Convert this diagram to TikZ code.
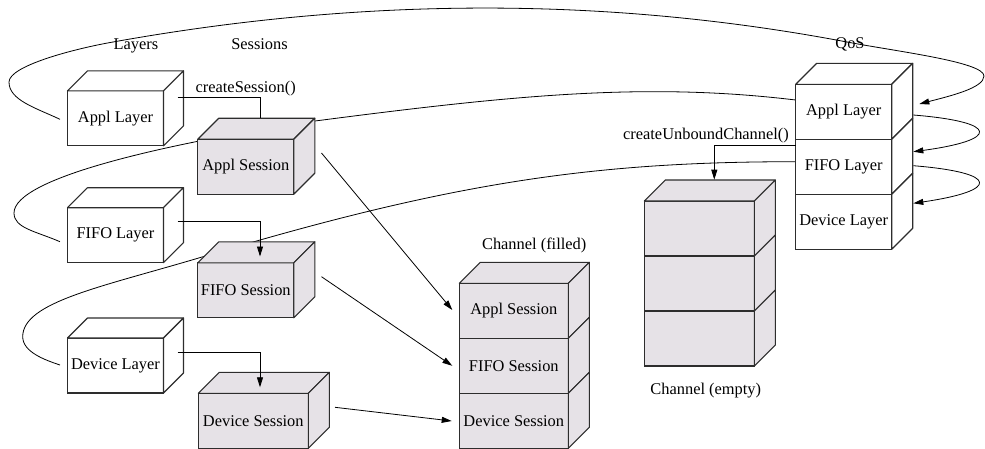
\documentclass[tikz,border=0pt]{standalone}
\usepackage{fontspec}
\setmainfont{Liberation Serif}
\usetikzlibrary{calc,arrows.meta}
\pgfdeclarelayer{background}
\pgfsetlayers{background,main}
\definecolor{sessfill}{RGB}{230,226,231}
\definecolor{edge}{RGB}{45,45,45}
\newcommand\mytopface[3]{\filldraw[boxface,fill=#3] (#1.north west) -- ++(#2,-#2) -- ($(#1.north east)+(#2,-#2)$) -- (#1.north east) -- cycle;}
\newcommand\mysideface[3]{\filldraw[boxface,fill=#3] (#1.north east) -- ++(#2,-#2) -- ($(#1.south east)+(#2,-#2)$) -- (#1.south east) -- cycle;}
\tikzset{
  lbl/.style={font=\fontsize{16.4}{19}\selectfont},
  cell/.style={draw=edge, line width=1.1pt, inner sep=0pt, outer sep=0pt, minimum height=55pt, lbl},
  layerbox/.style={cell, fill=white, minimum width=96pt},
  sessbox/.style={cell, fill=sessfill, minimum width=96pt},
  boxface/.style={draw=edge, line width=1.1pt, line join=round},
  conn/.style={draw=black, line width=0.8pt},
  arr/.style={conn, -{Triangle[length=10pt,width=6pt]}},
}
\begin{document}
\begin{tikzpicture}[x=1pt,y=-1pt]
\useasboundingbox (0,0) rectangle (985,448);
% left layers
\node[layerbox] (aL) at (115.5,118.3) {Appl Layer};
\node[layerbox] (fL) at (115.5,235.2) {FIFO Layer};
\node[layerbox] (dL) at (115.5,365.5) {Device Layer};
\mytopface{aL}{20}{white}\mysideface{aL}{20}{white}
\mytopface{fL}{20}{white}\mysideface{fL}{20}{white}
\mytopface{dL}{20}{white}\mysideface{dL}{20}{white}
% sessions
\node[sessbox] (aS) at (245.8,166.7) {Appl Session};
\node[sessbox] (fS) at (245.8,290.3) {FIFO Session};
\node[sessbox, minimum width=110pt] (dS) at (253.3,420.8) {Device Session};
\mytopface{aS}{21}{sessfill}\mysideface{aS}{21}{sessfill}
\mytopface{fS}{21}{sessfill}\mysideface{fS}{21}{sessfill}
\mytopface{dS}{21}{sessfill}\mysideface{dS}{21}{sessfill}
% channel (filled)
\node[sessbox, minimum width=109pt] (cA) at (513.8,310.8) {Appl Session};
\node[sessbox, minimum width=109pt] (cF) at (513.8,365.8) {FIFO Session};
\node[sessbox, minimum width=109pt] (cD) at (513.8,420.8) {Device Session};
\mytopface{cA}{21}{sessfill}
\mysideface{cA}{21}{sessfill}\mysideface{cF}{21}{sessfill}\mysideface{cD}{21}{sessfill}
% channel (empty)
\node[sessbox, minimum width=110pt] (e1) at (699.3,228.5) {};
\node[sessbox, minimum width=110pt] (e2) at (699.3,283.5) {};
\node[sessbox, minimum width=110pt] (e3) at (699.3,338.5) {};
\mytopface{e1}{21}{sessfill}
\mysideface{e1}{21}{sessfill}\mysideface{e2}{21}{sessfill}\mysideface{e3}{21}{sessfill}
% QoS stack
\node[layerbox] (qA) at (843.7,111.8) {Appl Layer};
\node[layerbox] (qF) at (843.7,166.8) {FIFO Layer};
\node[layerbox] (qD) at (843.7,221.8) {Device Layer};
\mytopface{qA}{21}{white}
\mysideface{qA}{21}{white}\mysideface{qF}{21}{white}\mysideface{qD}{21}{white}
% labels
\node[lbl, anchor=base] (tLayers) at (136,49.3) {Layers};
\node[lbl, anchor=base] (tSessions) at (259.5,49.3) {Sessions};
\node[lbl, anchor=base] (tQoS) at (850,48.5) {QoS};
\node[lbl, anchor=base] (tCS) at (245.7,92.5) {createSession()};
\node[lbl, anchor=base] (tUC) at (706,139.5) {createUnboundChannel()};
\node[lbl, anchor=base] (tCF) at (534.2,249) {Channel (filled)};
\node[lbl, anchor=base] (tCE) at (705.8,394) {Channel (empty)};
% connector end points
\coordinate (cs1a) at ($(aL.north east)+(14.2,7)$);
\coordinate (cs1b) at ($(aS.north west)+(62.2,-21)$);
\coordinate (cs2a) at ($(fL.north east)+(14.2,14)$);
\coordinate (cs2b) at ($(fS.north west)+(62.2,-6.3)$);
\coordinate (cs3a) at ($(dL.north east)+(14.2,14.3)$);
\coordinate (cs3b) at ($(dS.north west)+(61.7,-6)$);
\coordinate (ucA) at ($(qF.north west)+(0,6.4)$);
\coordinate (ucB) at ($(e1.north)+(15,-21.3)$);
\coordinate (d1s) at ($(aS.east)+(27.7,-13.7)$);
\coordinate (d1e) at ($(cA.west)+(-7,-0.8)$);
\coordinate (d2s) at ($(fS.east)+(27.7,-13.6)$);
\coordinate (d2e) at ($(cF.west)+(-7,0)$);
\coordinate (d3s) at ($(dS.east)+(26.7,-13.5)$);
\coordinate (d3e) at ($(cD.west)+(-7.6,0.2)$);
\coordinate (lAs) at ($(aL.west)+(-7.5,1)$);
\coordinate (lAe) at ($(qA.east)+(27.6,-7.8)$);
\coordinate (lBs) at ($(qA.west)+(0,-11.8)$);
\coordinate (lBe) at ($(fL.west)+(-7.5,6.5)$);
\coordinate (lCs) at ($(qF.west)+(0,-5.1)$);
\coordinate (lCe) at ($(dL.west)+(-7.5,-0.5)$);
\coordinate (l2s) at ($(qA.east)+(21.6,3.2)$);
\coordinate (l2e) at ($(qF.east)+(21.6,-15.1)$);
\coordinate (l3s) at ($(qF.east)+(21.6,-1.1)$);
\coordinate (l3e) at ($(qD.east)+(21.6,-18.5)$);
% loops behind the boxes
\begin{pgfonlayer}{background}
\draw[arr] (lAs) .. controls (35,107.6) and (9,100) .. (9,82)
  .. controls (9,66) and (73,49) .. (113,42)
  .. controls (358,-2) and (602,-4.5) .. (847,42)
  .. controls (897,51.5) and (984,62) .. (984,76)
  .. controls (984,88) and (950,96) .. (lAe);
\draw[conn] (lBs) .. controls (645.7,82) and (515,95) .. (315,121)
  .. controls (165,143.5) and (14,178) .. (14,213)
  .. controls (14,228) and (35,231) .. (lBe);
\draw[conn] (lCs) .. controls (595.7,161.7) and (453,181.7) .. (203,256.7)
  .. controls (103,286.7) and (22.7,301.7) .. (22.7,336.7)
  .. controls (22.7,352) and (45,360) .. (lCe);
\end{pgfonlayer}
% connectors
\draw[arr] (l2s) .. controls (1000,122) and (1000,140) .. (l2e);
\draw[arr] (l3s) .. controls (1000,172.7) and (1000,190.7) .. (l3e);
\draw[conn] (cs1a) -| (cs1b);
\draw[arr] (cs2a) -| (cs2b);
\draw[arr] (cs3a) -| (cs3b);
\draw[arr] (ucA) -| (ucB);
\draw[arr] (d1s) -- (d1e);
\draw[arr] (d2s) -- (d2e);
\draw[arr] (d3s) -- (d3e);
\end{tikzpicture}
\end{document}
